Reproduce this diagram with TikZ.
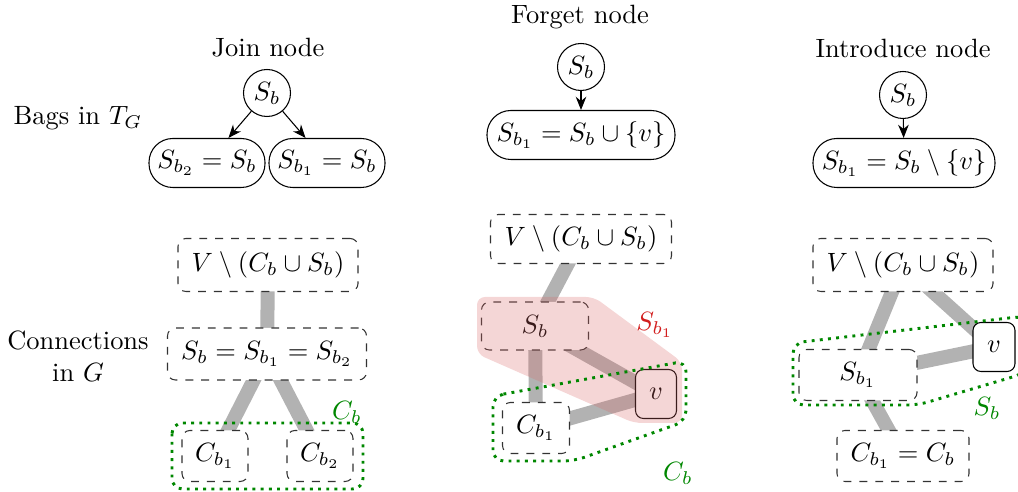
\documentclass[tikz,border=0pt]{standalone}
\usetikzlibrary{arrows.meta,backgrounds}
\newdimen\pxu \pxu=0.378pt
\definecolor{grpgreen}{RGB}{0,135,0}
\definecolor{sred}{RGB}{210,30,30}
\definecolor{pinkfill}{RGB}{218,105,105}
\begin{document}
\begin{tikzpicture}[x=0.378pt,y=-0.378pt,
  bag/.style={draw, rounded corners=9pt, minimum height=49\pxu, inner xsep=1pt, inner ysep=0pt},
  topbag/.style={draw, circle, minimum size=47\pxu, inner sep=0pt},
  part/.style={draw=black!80, dashed, rounded corners=3pt, fill=white, minimum height=51\pxu, inner sep=0pt},
  vert/.style={draw, rounded corners=3pt, fill=white, minimum width=41\pxu, minimum height=49\pxu, inner sep=0pt},
  link/.style={line width=14\pxu, black!30},
  arr/.style={-{Stealth[length=5pt,width=4pt]}},
  grp/.style={draw=grpgreen, dotted, line width=1.1pt, rounded corners=4pt},
  grplabel/.style={text=grpgreen},
  shade/.style={fill=pinkfill, fill opacity=0.27, rounded corners=3pt}]
\useasboundingbox (0,0) rectangle (1018,492);

% ---------- row labels
\node (lbags) at (78,118) {Bags in $T_G$};
\node[align=center] (lconn) at (78,356) {Connections\\in $G$};

% ---------- Join node
\node (tjoin) at (268,48) {Join node};
\node[topbag] (jr) at (267,93) {$S_b$};
\node[bag, minimum width=116\pxu] (jb2) at (207,163) {$S_{b_2}=S_b$};
\node[bag, minimum width=116\pxu] (jb1) at (327,163) {$S_{b_1}=S_b$};
\draw[arr] (jr) -- (jb2);
\draw[arr] (jr) -- (jb1);

\node[part, minimum width=180\pxu, minimum height=53\pxu] (jv) at (268,265) {$V\setminus(C_b\cup S_b)$};
\node[part, minimum width=199\pxu, minimum height=52\pxu] (js) at (267,354) {$S_b=S_{b_1}=S_{b_2}$};
\node[part, minimum width=66\pxu] (jc1) at (215,456) {$C_{b_1}$};
\node[part, minimum width=66\pxu] (jc2) at (320,456) {$C_{b_2}$};
\begin{scope}[on background layer]
  \draw[link] (jv.center) -- (js.center);
  \draw[link] (js.center) -- (jc1.center);
  \draw[link] (js.center) -- (jc2.center);
\end{scope}
\draw[grp] (172,423) rectangle (363,489);
\node[grplabel] (jcb) at (347,412) {$C_b$};

% ---------- Forget node
\node (tforget) at (580,17) {Forget node};
\node[topbag] (fr) at (581,67) {$S_b$};
\node[bag, minimum width=188\pxu] (fb) at (581,135) {$S_{b_1}=S_b\cup\{v\}$};
\draw[arr] (fr) -- (fb);

\node[part, minimum width=181\pxu, minimum height=49\pxu] (fv) at (581,239) {$V\setminus(C_b\cup S_b)$};
\node[part, minimum width=107\pxu, minimum height=48\pxu] (fs) at (535,326) {$S_b$};
\node[vert] (fx) at (656,394) {$v$};
\node[part, minimum width=67\pxu] (fc) at (536,428) {$C_{b_1}$};
\begin{scope}[on background layer]
  \draw[link] (fv.center) -- (fs.center);
  \draw[link] (fs.center) -- (fc.center);
  \draw[link] (fs.center) -- (fx.center);
  \draw[link] (fx.center) -- (fc.center);
\end{scope}
\fill[shade] (477,297) -- (594,297) -- (682,362) -- (682,423) -- (634,423) -- (477,354) -- cycle;
\node[text=sred] (fsl) at (655,325) {$S_{b_1}$};
\draw[grp] (493,396) -- (686,361) -- (686,421) -- (574,461) -- (493,461) -- cycle;
\node[grplabel] (fcb) at (678,473) {$C_b$};

% ---------- Introduce node
\node (tintro) at (903,48) {Introduce node};
\node[topbag] (ir) at (903,95) {$S_b$};
\node[bag, minimum width=182\pxu] (ib) at (904,163) {$S_{b_1}=S_b\setminus\{v\}$};
\draw[arr] (ir) -- (ib);

\node[part, minimum width=180\pxu, minimum height=53\pxu] (iv) at (903,265) {$V\setminus(C_b\cup S_b)$};
\node[vert, minimum width=42\pxu] (ix) at (994,347) {$v$};
\node[part, minimum width=118\pxu] (is) at (858,375) {$S_{b_1}$};
\node[part, minimum width=132\pxu] (ic) at (903,456) {$C_{b_1}=C_b$};
\begin{scope}[on background layer]
  \draw[link] (iv.center) -- (is.center);
  \draw[link] (iv.center) -- (ix.center);
  \draw[link] (is.center) -- (ix.center);
  \draw[link] (is.center) -- (ic.center);
\end{scope}
\draw[grp] (793,343) -- (1026,316) -- (1026,373) -- (918,405) -- (793,405) -- cycle;
\node[grplabel] (isb) at (987,408) {$S_b$};
\end{tikzpicture}
\end{document}
